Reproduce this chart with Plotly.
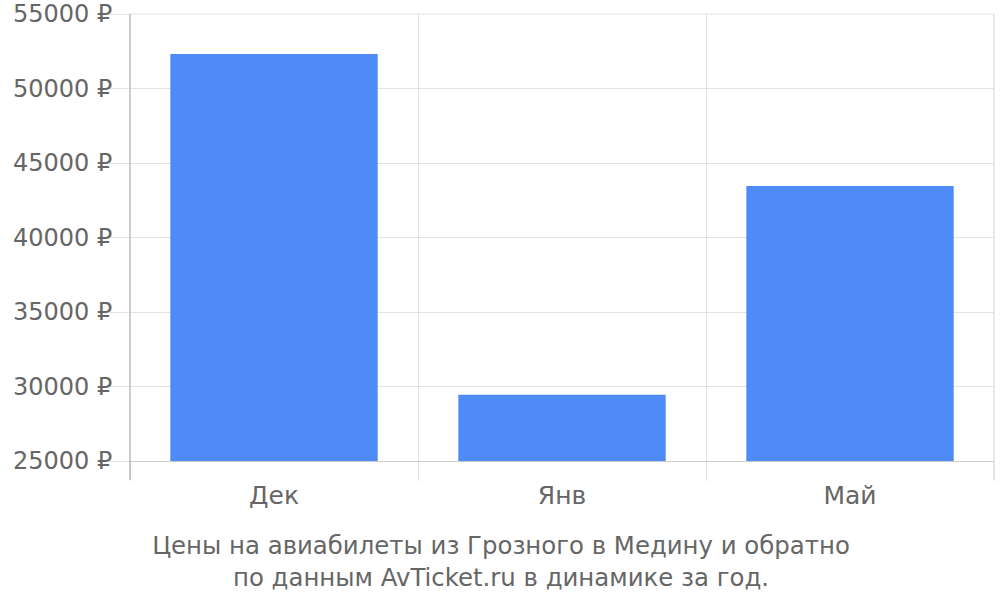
import plotly.graph_objects as go

categories = ["Дек", "Янв", "Май"]
prices = [52320, 29450, 43450]
y_ticks = [25000, 30000, 35000, 40000, 45000, 50000, 55000]
title_lines = ["Цены на авиабилеты из Грозного в Медину и обратно",
               "по данным AvTicket.ru в динамике за год."]

FONT = "DejaVu Sans"
TXT = "#666666"
GRID = "#e2e2e2"

fig = go.Figure(go.Bar(x=categories, y=prices, marker=dict(color="#4e8bf9", line=dict(width=0)),
                       hoverinfo="x+y"))

fig.update_layout(
    width=1000, height=600,
    margin=dict(l=130, r=6, t=14, b=139, autoexpand=False),
    paper_bgcolor="white", plot_bgcolor="white",
    bargap=0.28,
    showlegend=False,
    font=dict(family=FONT, color=TXT, size=24),
    title=dict(text="<br>".join(title_lines), x=0.501, xref="container", xanchor="center",
               y=(600 - 554) / 600, yref="container", yanchor="middle",
               font=dict(family=FONT, size=24.4, color=TXT)),
)
fig.update_xaxes(type="category", tickson="boundaries", showgrid=True, gridcolor=GRID, gridwidth=1,
                 ticks="outside", ticklen=19, tickcolor=GRID, tickwidth=1,
                 showline=True, linecolor="#cccccc", linewidth=1, automargin=False,
                 ticklabelstandoff=12,
                 tickfont=dict(family=FONT, size=25, color=TXT))
fig.update_yaxes(range=[25000, 55000], tickvals=y_ticks,
                 ticktext=[f"{v} ₽" for v in y_ticks],
                 showgrid=True, gridcolor=GRID, gridwidth=1,
                 ticks="outside", ticklen=20, tickcolor=GRID, tickwidth=1,
                 showline=False,
                 zeroline=False, automargin=False, ticklabelstandoff=-8,
                 ticklabeloverflow="allow",
                 tickfont=dict(family=FONT, size=24, color=TXT))
# top grid line and right boundary line (edge grid lines)
fig.add_shape(type="line", xref="x domain", yref="y domain", x0=0, x1=1, y0=1, y1=1,
              line=dict(color=GRID, width=1), layer="below")
fig.add_shape(type="line", xref="x domain", yref="y domain", x0=1, x1=1, y0=-19 / 447, y1=1,
              line=dict(color=GRID, width=1.5), layer="below")
# y-axis line, extending below the plot
fig.add_shape(type="line", xref="x domain", yref="y domain", x0=0, x1=0, y0=-19 / 447, y1=1,
              line=dict(color="#aaaaaa", width=1.2))

fig.write_html("out.html", config={"displayModeBar": False},
               post_script="document.body.style.margin='0';")
